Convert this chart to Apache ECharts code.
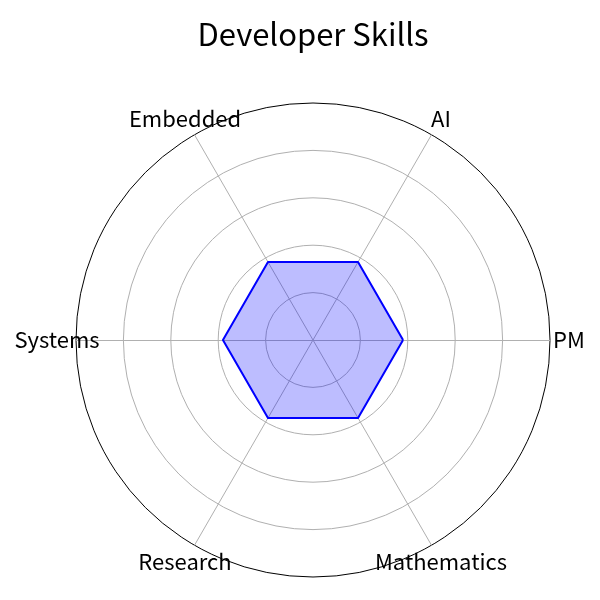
<!DOCTYPE html>
<html>
<head>
<meta charset="utf-8">
<script src="https://cdn.jsdelivr.net/npm/echarts@6/dist/echarts.min.js"></script>
<style>html,body{margin:0;padding:0;background:#fff}#c{width:600px;height:600px}</style>
</head>
<body>
<div id="c"></div>
<script>
const categories = ['PM', 'AI', 'Embedded', 'Systems', 'Research', 'Mathematics'];
const skillValues = [1.9, 1.9, 1.9, 1.9, 1.9, 1.9];
const axisMax = 5;
const ringCount = 5;
const chartTitle = 'Developer Skills';

const FONT = '"Noto Sans CJK JP", "Noto Sans", sans-serif';
const chart = echarts.init(document.getElementById('c'), null, {renderer: 'canvas'});
chart.setOption({
  backgroundColor: '#ffffff',
  animation: false,
  title: {
    text: chartTitle,
    left: 308,
    textAlign: 'center',
    top: 14,
    textStyle: {fontFamily: FONT, fontSize: 31, fontWeight: 'normal', color: '#000'}
  },
  radar: {
    center: [313, 340],
    radius: 237,
    startAngle: 0,
    shape: 'circle',
    splitNumber: ringCount,
    nameGap: 19,
    axisName: {
      color: '#000', fontFamily: FONT, fontSize: 22,
      align: 'center', verticalAlign: 'middle'
    },
    indicator: categories.map(n => ({name: n, min: 0, max: axisMax})),
    axisLine: {lineStyle: {color: '#b0b0b0', width: 1}},
    splitLine: {lineStyle: {color: ['#b0b0b0', '#b0b0b0', '#b0b0b0', '#b0b0b0', '#b0b0b0', '#000000'], width: 1}},
    splitArea: {show: false},
    axisTick: {show: false},
    axisLabel: {show: false}
  },
  series: [{
    type: 'radar',
    symbol: 'none',
    lineStyle: {color: '#0000ff', width: 2},
    areaStyle: {color: '#0000ff', opacity: 0.26},
    data: [{value: skillValues, name: chartTitle}]
  }]
});
</script>
</body>
</html>
